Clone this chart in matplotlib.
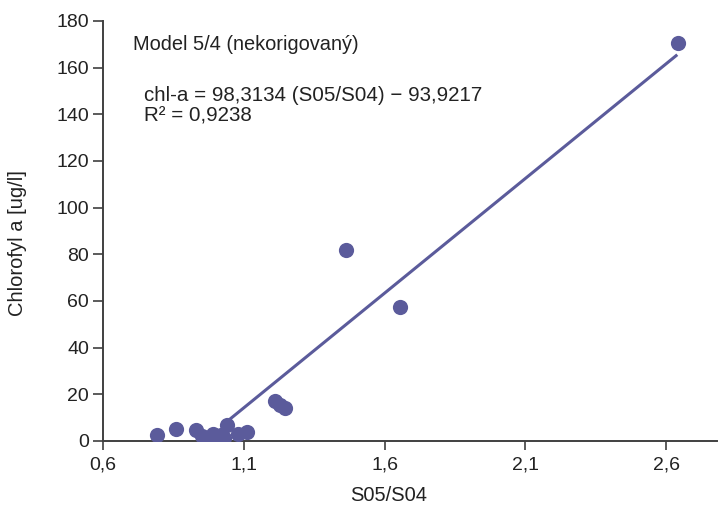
import matplotlib
matplotlib.use("Agg")
from matplotlib import pyplot as plt

plt.rcParams['font.family'] = ['Liberation Sans', 'DejaVu Sans']

# data
ratio = [0.79, 0.86, 0.93, 0.95, 0.97, 0.99, 1.00, 1.02, 1.03, 1.04, 1.08, 1.11,
         1.21, 1.23, 1.245, 1.464, 1.655, 2.642]
chla = [2.6, 5.1, 4.5, 2.0, 1.0, 3.0, 0.8, 2.5, 1.2, 7.0, 3.0, 4.0,
        17.1, 15.4, 14.1, 81.9, 57.4, 170.6]

slope = 98.3134
intercept = -93.9217
fit_x = [1.04, 2.635]

xticks = [0.6, 1.1, 1.6, 2.1, 2.6]
xtick_labels = ['0,6', '1,1', '1,6', '2,1', '2,6']
yticks = [0, 20, 40, 60, 80, 100, 120, 140, 160, 180]

col = '#5b5b9b'
txt = '#222222'

fig = plt.figure(figsize=(7.18, 5.07), dpi=100)
ax = fig.add_axes([0.1435, 0.1302, 0.855, 0.8284])

ax.scatter(ratio, chla, s=120, color=col, zorder=3, linewidths=0)
fit_y = [slope * v + intercept for v in fit_x]
ax.plot(fit_x, fit_y, color=col, lw=2.2, zorder=2)

ax.set_xlim(0.6, 2.78)
ax.set_ylim(0, 180)
ax.set_xticks(xticks)
ax.set_xticklabels(xtick_labels)
ax.set_yticks(yticks)

for s in ['top', 'right']:
    ax.spines[s].set_visible(False)
for s in ['left', 'bottom']:
    ax.spines[s].set_color('#404040')
    ax.spines[s].set_linewidth(1.4)
ax.tick_params(colors='#404040', labelcolor=txt, labelsize=14, width=1.2)
ax.tick_params(axis='x', length=6.5, pad=5)
ax.tick_params(axis='y', length=7, pad=3)

ax.set_xlabel('S05/S04', fontsize=14.5, color=txt)
ax.set_ylabel('Chlorofyl a [ug/l]', fontsize=14.5, color=txt)
ax.xaxis.set_label_coords(0.466, -0.108)
ax.yaxis.set_label_coords(-0.124, 0.471)

ax.text(0.049, 0.931, 'Model 5/4 (nekorigovaný)', transform=ax.transAxes,
        fontsize=14.4, color=txt, va='baseline')
ax.text(0.066, 0.8095, 'chl-a = 98,3134 (S05/S04) \u2212 93,9217', transform=ax.transAxes,
        fontsize=14.8, color=txt, va='baseline')
ax.text(0.066, 0.7595, 'R² = 0,9238', transform=ax.transAxes,
        fontsize=14.8, color=txt, va='baseline')

fig.savefig('out.png', dpi=100)
